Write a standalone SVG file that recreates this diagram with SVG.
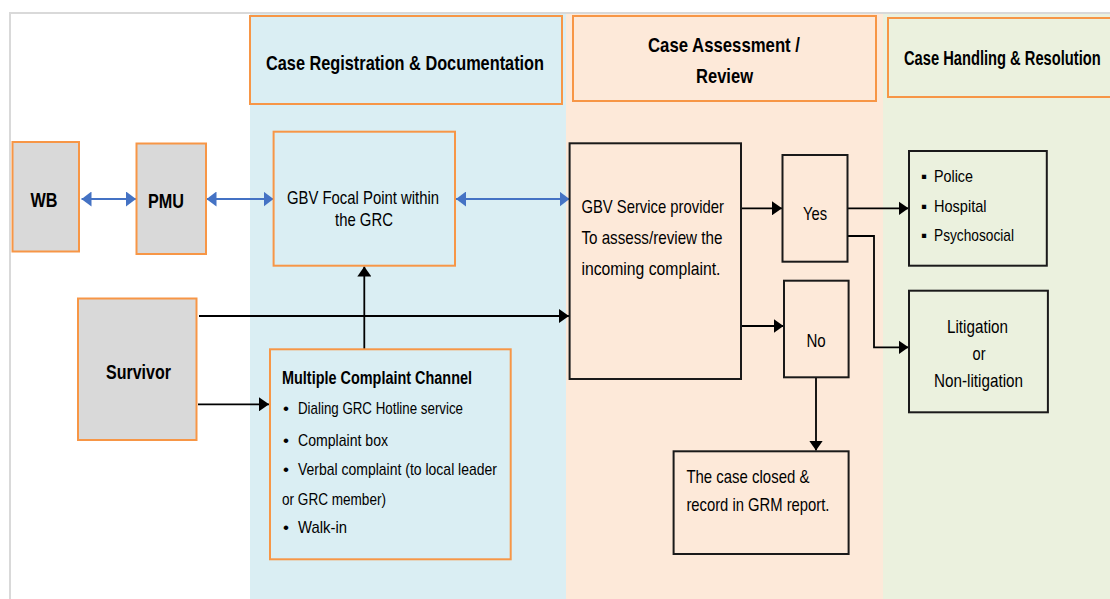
<svg xmlns="http://www.w3.org/2000/svg" width="1110" height="599" viewBox="0 0 1110 599">
<defs>
<style>
.hd{font-family:"Liberation Sans",Arial,sans-serif;font-weight:bold;font-size:21px;fill:#000}
.bt{font-family:"Liberation Sans",Arial,sans-serif;font-weight:bold;font-size:20px;fill:#000}
.nr{font-family:"Liberation Sans",Arial,sans-serif;font-size:19px;fill:#000}
.sm{font-family:"Liberation Sans",Arial,sans-serif;font-size:17px;fill:#000}
.smb{font-family:"Liberation Sans",Arial,sans-serif;font-weight:bold;font-size:18px;fill:#000}
.gray{fill:#d9d9d9;stroke:#f79646;stroke-width:2}
.orb{fill:#daeef3;stroke:#f79646;stroke-width:2}
.orp{fill:#fde9d9;stroke:#f79646;stroke-width:2}
.org{fill:#ebf1de;stroke:#f79646;stroke-width:2}
.blk{fill:none;stroke:#1a1a1a;stroke-width:2}
.cn{fill:none;stroke:#000;stroke-width:1.8}
.cb{fill:none;stroke:#4472c4;stroke-width:2}
</style>
<marker id="ah" viewBox="0 0 10 14" refX="10" refY="7" markerWidth="10" markerHeight="14" markerUnits="userSpaceOnUse" orient="auto"><path d="M0,0 L10,7 L0,14 z" fill="#000"/></marker>
<marker id="bh" viewBox="0 0 10 15" refX="10" refY="7.5" markerWidth="10" markerHeight="15" markerUnits="userSpaceOnUse" orient="auto-start-reverse"><path d="M0,0 L10,7.5 L0,15 z" fill="#4472c4"/></marker>
</defs>
<rect x="0" y="0" width="1110" height="599" fill="#fff"/>
<g id="background">
<rect x="250" y="14" width="316" height="585" fill="#daeef3"/>
<rect x="566" y="14" width="317" height="585" fill="#fde9d9"/>
<rect x="883" y="14" width="227" height="585" fill="#ebf1de"/>
<path d="M10,599 V13 H1110" fill="none" stroke="#d9d9d9" stroke-width="2"/>
</g>
<g id="header-registration">
<rect class="orb" x="250" y="16" width="312" height="88"/>
<text class="hd" x="266" y="70" textLength="278" lengthAdjust="spacingAndGlyphs">Case Registration &amp; Documentation</text>
</g>
<g id="header-assessment">
<rect class="orp" x="573" y="16" width="303" height="85"/>
<text class="hd" x="648" y="52" textLength="152" lengthAdjust="spacingAndGlyphs">Case Assessment /</text>
<text class="hd" x="696" y="83" textLength="57" lengthAdjust="spacingAndGlyphs">Review</text>
</g>
<g id="header-handling">
<rect class="org" x="888" y="18" width="226" height="79"/>
<text class="hd" transform="translate(904,65) scale(0.70,1)" x="0" y="0">Case Handling &amp; Resolution</text>
</g>
<g id="connectors">
<line class="cb" x1="81.5" y1="199" x2="136" y2="199" marker-start="url(#bh)" marker-end="url(#bh)"/>
<line class="cb" x1="206.5" y1="199" x2="273.5" y2="199" marker-start="url(#bh)" marker-end="url(#bh)"/>
<line class="cb" x1="456" y1="199" x2="569.5" y2="199" marker-start="url(#bh)" marker-end="url(#bh)"/>
<line class="cn" x1="199" y1="316" x2="569" y2="316" marker-end="url(#ah)"/>
<line class="cn" x1="364.3" y1="349.3" x2="364.3" y2="266.5" marker-end="url(#ah)"/>
<line class="cn" x1="198" y1="404.3" x2="269" y2="404.3" marker-end="url(#ah)"/>
<line class="cn" x1="742" y1="208.3" x2="782" y2="208.3" marker-end="url(#ah)"/>
<line class="cn" x1="742" y1="326" x2="783.5" y2="326" marker-end="url(#ah)"/>
<line class="cn" x1="848" y1="208.3" x2="908.5" y2="208.3" marker-end="url(#ah)"/>
<path class="cn" d="M848,236 H874 V347.3 H908.5" marker-end="url(#ah)"/>
<line class="cn" x1="816" y1="377.3" x2="816" y2="450.5" marker-end="url(#ah)"/>
</g>
<g id="wb">
<rect class="gray" x="12.5" y="142" width="66.5" height="109.5"/>
<text class="bt" x="30.4" y="207" textLength="27" lengthAdjust="spacingAndGlyphs">WB</text>
</g>
<g id="pmu">
<rect class="gray" x="136.5" y="143.5" width="69.5" height="110.5"/>
<text class="bt" x="148" y="208" textLength="36" lengthAdjust="spacingAndGlyphs">PMU</text>
</g>
<g id="survivor">
<rect class="gray" x="78" y="298.5" width="118.5" height="141.5"/>
<text class="bt" x="106" y="379" textLength="65" lengthAdjust="spacingAndGlyphs">Survivor</text>
</g>
<g id="gbv-focal-point">
<rect class="orb" x="273.6" y="131.7" width="181.4" height="134"/>
<text class="nr" x="287" y="204" textLength="152" lengthAdjust="spacingAndGlyphs">GBV Focal Point within</text>
<text class="nr" x="335" y="226" textLength="58" lengthAdjust="spacingAndGlyphs">the GRC</text>
</g>
<g id="complaint-channel">
<rect class="orb" x="270" y="349.3" width="240.7" height="210"/>
<text class="smb" x="282" y="384" textLength="190" lengthAdjust="spacingAndGlyphs">Multiple Complaint Channel</text>
<text class="sm" x="283" y="414">•</text>
<text class="sm" x="298" y="414" textLength="165" lengthAdjust="spacingAndGlyphs">Dialing GRC Hotline service</text>
<text class="sm" x="283" y="445.7">•</text>
<text class="sm" x="298" y="445.7" textLength="90" lengthAdjust="spacingAndGlyphs">Complaint box</text>
<text class="sm" x="283" y="475">•</text>
<text class="sm" x="298" y="475" textLength="199" lengthAdjust="spacingAndGlyphs">Verbal complaint (to local leader</text>
<text class="sm" x="282" y="505" textLength="104" lengthAdjust="spacingAndGlyphs">or GRC member)</text>
<text class="sm" x="283" y="533.3">•</text>
<text class="sm" x="298" y="533.3" textLength="49" lengthAdjust="spacingAndGlyphs">Walk-in</text>
</g>
<g id="gbv-service-provider">
<rect class="blk" x="569.6" y="143.3" width="171.4" height="235.7"/>
<text class="nr" x="581.4" y="213" textLength="142.5" lengthAdjust="spacingAndGlyphs">GBV Service provider</text>
<text class="nr" x="581.4" y="244" textLength="141" lengthAdjust="spacingAndGlyphs">To assess/review the</text>
<text class="nr" x="581.4" y="275" textLength="139" lengthAdjust="spacingAndGlyphs">incoming complaint.</text>
</g>
<g id="yes">
<rect class="blk" x="782.5" y="155" width="65" height="106.7"/>
<text class="nr" x="803" y="220" textLength="24" lengthAdjust="spacingAndGlyphs">Yes</text>
</g>
<g id="no">
<rect class="blk" x="784" y="280.7" width="64.6" height="96.6"/>
<text class="nr" x="806.4" y="346.7" textLength="19.3" lengthAdjust="spacingAndGlyphs">No</text>
</g>
<g id="services">
<rect class="blk" x="909" y="151" width="137.8" height="114.7"/>
<text class="sm" x="921" y="181.7">▪</text>
<text class="sm" x="934" y="181.7" textLength="39" lengthAdjust="spacingAndGlyphs">Police</text>
<text class="sm" x="921" y="211.7">▪</text>
<text class="sm" x="934" y="211.7" textLength="52.5" lengthAdjust="spacingAndGlyphs">Hospital</text>
<text class="sm" x="921" y="240.7">▪</text>
<text class="sm" x="934" y="240.7" textLength="80" lengthAdjust="spacingAndGlyphs">Psychosocial</text>
</g>
<g id="litigation">
<rect class="blk" x="909" y="290.7" width="138.9" height="121.6"/>
<text class="nr" x="947" y="332.7" textLength="61" lengthAdjust="spacingAndGlyphs">Litigation</text>
<text class="nr" x="972.5" y="360" textLength="13" lengthAdjust="spacingAndGlyphs">or</text>
<text class="nr" x="934" y="387.3" textLength="89" lengthAdjust="spacingAndGlyphs">Non-litigation</text>
</g>
<g id="case-closed">
<rect class="blk" x="673.6" y="451.3" width="175" height="102.7"/>
<text class="nr" x="686.4" y="482.7" textLength="123" lengthAdjust="spacingAndGlyphs">The case closed &amp;</text>
<text class="nr" x="686.4" y="510.7" textLength="143" lengthAdjust="spacingAndGlyphs">record in GRM report.</text>
</g>
</svg>
